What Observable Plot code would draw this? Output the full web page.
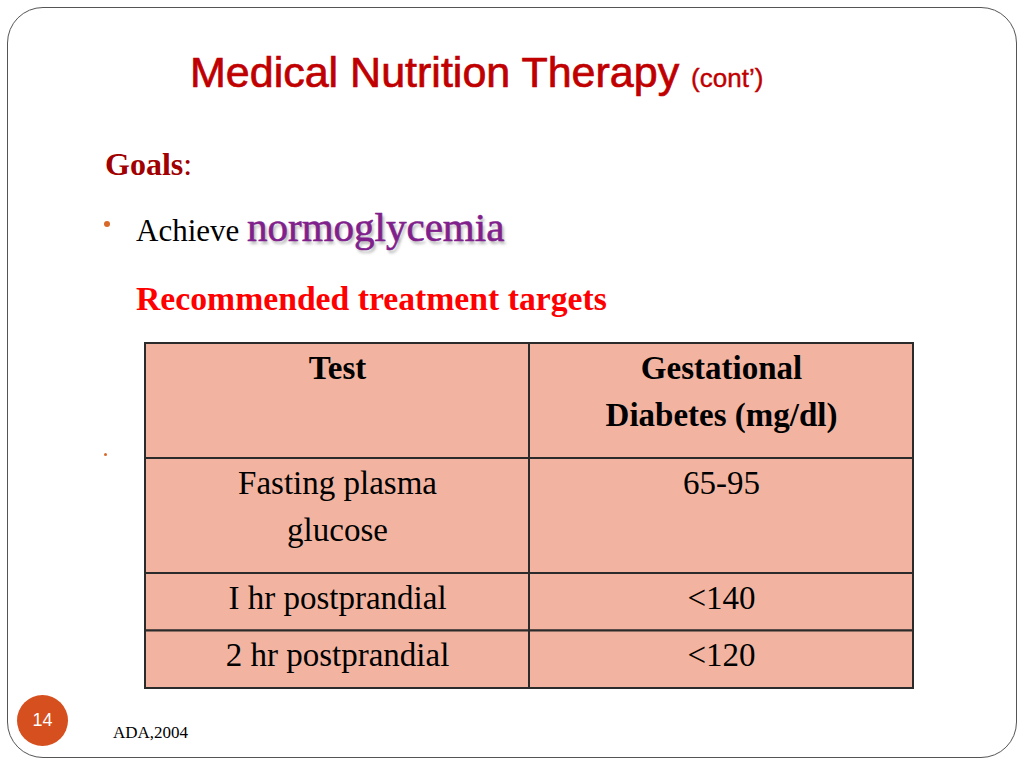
<!DOCTYPE html>
<html>
<head>
<meta charset="utf-8">
<script src="https://cdn.jsdelivr.net/npm/d3@7"></script>
<script src="https://cdn.jsdelivr.net/npm/@observablehq/plot@0.6"></script>
<style>
  html, body { margin: 0; padding: 0; background: #fff; }
  #slide { position: relative; width: 1024px; height: 768px; overflow: hidden; background: #fff; }
  .frame { position: absolute; left: 7px; top: 7px; width: 1010px; height: 751px; border: 1.5px solid #555; border-radius: 36px; box-sizing: border-box; }
  #chart { position: absolute; left: 0; top: 0; }
  .t { position: absolute; white-space: nowrap; line-height: 1; }
  .serif { font-family: "Liberation Serif", "Times New Roman", serif; }
  .sans { font-family: "Liberation Sans", Arial, sans-serif; }
</style>
</head>
<body>
<div id="slide">
  <div class="frame"></div>
  <div id="chart"></div>

  <div class="t sans" style="left:190px; top:51px; font-size:43px; color:#C00000; -webkit-text-stroke:0.7px #C00000;">Medical Nutrition Therapy <span style="font-size:26px; -webkit-text-stroke:0.4px #C00000;">(cont’)</span></div>

  <div class="t serif" style="left:105px; top:148px; font-size:32px; font-weight:bold; color:#A00000;">Goals<span style="font-weight:normal;">:</span></div>

  <div style="position:absolute; left:104px; top:221px; width:6px; height:6px; border-radius:50%; background:#D9682B;"></div>
  <div class="t serif" style="left:136px; top:207px; font-size:31px; color:#000;">Achieve <span style="font-size:41px; color:#80208C; -webkit-text-stroke:0.6px #80208C; text-shadow:2px 3px 3px rgba(0,0,0,0.3);">normoglycemia</span></div>

  <div class="t serif" style="left:136px; top:282px; font-size:33.7px; font-weight:bold; color:#FF0000;">Recommended treatment targets</div>

  <div style="position:absolute; left:104px; top:453px; width:3px; height:3px; border-radius:50%; background:#D9682B;"></div>

  <div class="sans" style="position:absolute; left:17px; top:695px; width:51px; height:51px; border-radius:50%; background:#D64F1E; color:#fff; font-size:18px; display:flex; align-items:center; justify-content:center;">14</div>

  <div class="t serif" style="left:113px; top:724px; font-size:17px; color:#000;">ADA,2004</div>
</div>

<script>
// ---- data ----
const columns = ["Test", "Gestational Diabetes (mg/dl)"];
const headerLines = [["Test"], ["Gestational", "Diabetes (mg/dl)"]];
const tests = [["Fasting plasma", "glucose"], ["I hr postprandial"], ["2 hr postprandial"]];
const targets = ["65-95", "<140", "<120"];

// ---- build table cells (row heights follow the number of text lines) ----
const rows = [{cells: headerLines, header: true}].concat(
  tests.map((t, i) => ({cells: [t, [targets[i]]], header: false}))
);
const cells = [];
let y0 = 0;
for (const row of rows) {
  const n = d3.max(row.cells, c => c.length);
  row.cells.forEach((lines, c) => {
    cells.push({x1: c, x2: c + 1, xm: c + 0.5, y1: y0, y2: y0 + n, label: lines.join("\n"), header: row.header});
  });
  y0 += n;
}
const totalLines = y0;

const textOpts = {x: "xm", y: "y1", text: "label", lineAnchor: "top", lineHeight: 1.42, dy: 2, fontSize: 33, fill: "#000"};

const chart = Plot.plot({
  width: 1024,
  height: 768,
  margin: 0,
  x: {domain: [0, columns.length], range: [145, 913], axis: null},
  y: {domain: [0, totalLines], range: [343, 688], axis: null},
  style: {background: "transparent", fontFamily: "'Liberation Serif', 'Times New Roman', serif", color: "#000"},
  marks: [
    Plot.rect(cells, {x1: "x1", x2: "x2", y1: "y1", y2: "y2", fill: "#F2B4A0", stroke: "#2b2b2b", strokeWidth: 2}),
    Plot.text(cells.filter(d => d.header), {...textOpts, fontWeight: "bold"}),
    Plot.text(cells.filter(d => !d.header), {...textOpts, fontWeight: "normal"})
  ]
});
document.getElementById("chart").appendChild(chart);
</script>
</body>
</html>
